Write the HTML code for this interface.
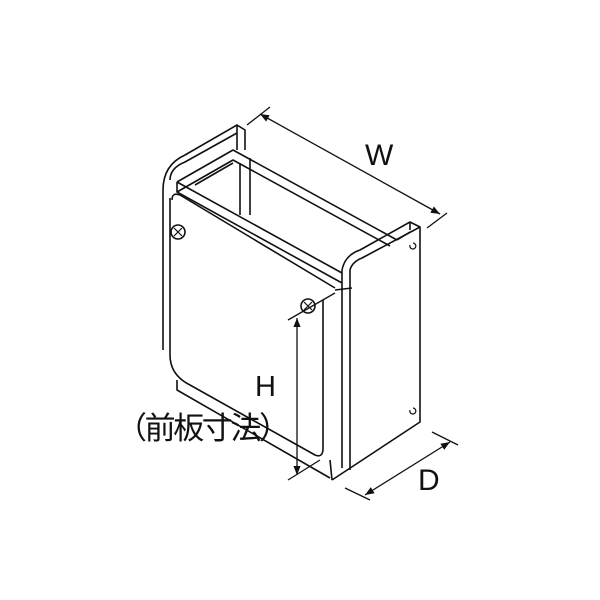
<!DOCTYPE html>
<html><head><meta charset="utf-8"><style>
html,body{margin:0;padding:0;background:#fff;width:600px;height:600px;overflow:hidden}
svg{display:block}
text{font-family:"Liberation Sans","Noto Sans CJK JP",sans-serif;fill:#111}
</style></head><body>
<svg width="600" height="600" viewBox="0 0 600 600" xmlns="http://www.w3.org/2000/svg">
<defs><marker id="a" viewBox="0 0 10 10" refX="10" refY="5" markerWidth="7" markerHeight="7" orient="auto-start-reverse"><path d="M0,1 L10,5 L0,9z" fill="#111"/></marker></defs>
<g fill="none" stroke="#111" stroke-width="1.6" stroke-linejoin="round">
<path d="M163,350 L163,190 Q163,165 185,155 L237,125 L245,130 L245,150"/>
<path d="M170,180 Q170,168 185,162 L237,133"/>
<path d="M237,125 L237,150"/>
<path d="M177,182 L233,150 L397,240"/>
<path d="M177,192 L233,160 L390,246"/>
<path d="M177,182 L177,192 L342,283"/>
<path d="M177,182 L342,273"/>
<path d="M195,185 L233,163"/>
<path d="M240,163 L240,215 M250,158 L250,215"/>
<path d="M172,200 Q172,192 180,195 L335,288"/>
<path d="M170,198 L170,355 Q170,375 190,385 L315,455 Q322,458 323,450 L323,300"/>
<path d="M177,380 L177,390 L330,478"/>
<path d="M330,460 L332,480"/>
<path d="M342,283 L342,468 M350,290 L350,470"/>
<path d="M335,290 L352,288"/>
<path d="M342,283 L342,270 Q345,255 360,250 L410,222 L420,227 L420,422 L332,480"/>
<path d="M350,290 L350,270 Q352,262 362,258 L420,227"/>
<path d="M410,222 L410,230"/>
<path d="M397,240 L410,232"/>
<circle cx="178" cy="232" r="7"/>
<circle cx="308" cy="306" r="7"/>
<path d="M174,228 L182,236 M182,228 L174,236 M304,302 L312,310 M312,302 L304,310" stroke-width="1.2"/>
<path d="M410,245 a3,3 0 1 0 3,-2 M410,410 a3,3 0 1 0 3,-2" stroke-width="1.2"/>
</g>
<g stroke="#111" stroke-width="1.3" fill="none">
<path d="M247,125 L270,107 M427,228 L447,213"/>
<path d="M260,114 L440,214" marker-start="url(#a)" marker-end="url(#a)"/>
<path d="M288,320 L335,293 M288,480 L320,460"/>
<path d="M297,318 L297,475" marker-start="url(#a)" marker-end="url(#a)"/>
<path d="M345,488 L370,500 M432,432 L458,445"/>
<path d="M365,495 L450,442" marker-start="url(#a)" marker-end="url(#a)"/>
</g>
<text x="365" y="165" font-size="30">W</text>
<text x="255" y="396" font-size="29">H</text>
<text x="116" y="439" font-size="31" textLength="174" lengthAdjust="spacing">（前板寸法）</text>
<text x="418" y="490" font-size="30">D</text>
</svg>
</body></html>
